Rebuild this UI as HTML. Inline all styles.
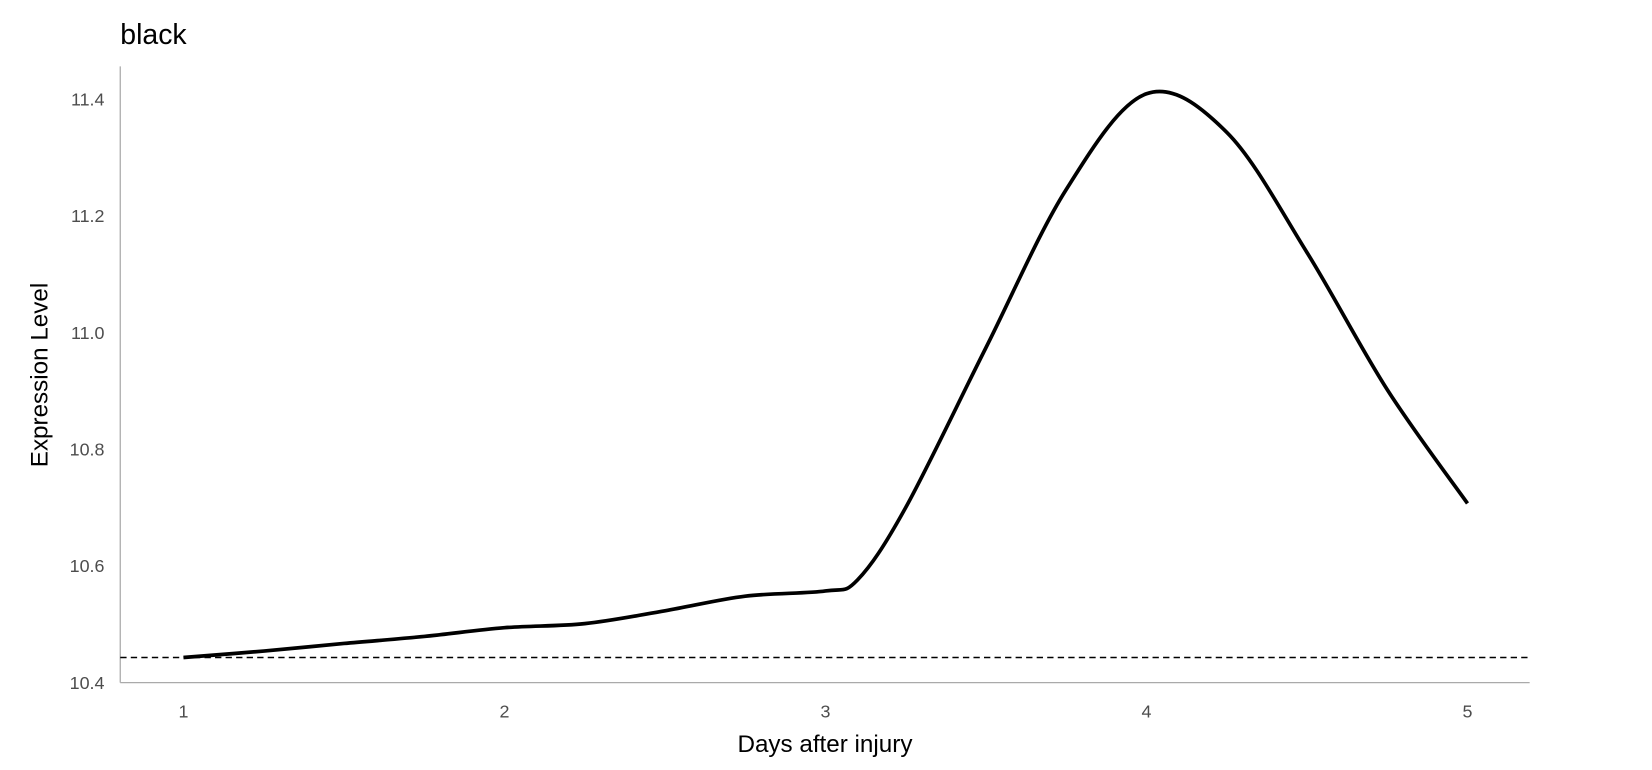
<!DOCTYPE html>
<html><head><meta charset="utf-8"><style>
html,body{margin:0;padding:0;background:#fff;}
svg{display:block;font-family:"Liberation Sans",Arial,sans-serif;}
</style></head><body>
<svg id="chart" width="1652" height="770" viewBox="0 0 1568 731" xmlns="http://www.w3.org/2000/svg">
<text x="114" y="42" font-size="27" fill="#000">black</text>
<g id="axes"></g>
<g id="marks"></g>
<text x="783" y="714" font-size="23" text-anchor="middle" fill="#000">Days after injury</text>
<text transform="translate(45,356) rotate(-90)" font-size="23" text-anchor="middle" fill="#000">Expression Level</text>
</svg>
<script>
const days = [1,1.25,1.5,1.75,2,2.25,2.5,2.75,3,3.1,3.25,3.5,3.75,4,4.25,4.5,4.75,5];
const expression = [10.443,10.454,10.467,10.479,10.494,10.501,10.523,10.548,10.557,10.576,10.70,10.974,11.245,11.409,11.343,11.137,10.902,10.707];
const baseline = 10.443;
const xTicks = [1,2,3,4,5];
const yTicks = [10.4,10.6,10.8,11.0,11.2,11.4];
const yTickLabels = ["10.4","10.6","10.8","11.0","11.2","11.4"];

const xs = d => 174 + (d-1)*304.75;
const ys = v => 648 - (v-10.4)*554;
const NS="http://www.w3.org/2000/svg";
const axes=document.getElementById('axes'), marks=document.getElementById('marks');
function mk(tag,attrs,parent){const e=document.createElementNS(NS,tag);for(const k in attrs)e.setAttribute(k,attrs[k]);parent.appendChild(e);return e;}

const xl=mk('line',{x1:114,y1:648,x2:1452,y2:648,stroke:'#aaa','stroke-width':1.2},axes);


const yl=mk('line',{x1:114,y1:63,x2:114,y2:648,stroke:'#aaa','stroke-width':1.2},axes);


xTicks.forEach(t=>{
  const e=mk('text',{x:xs(t),y:681,'font-size':17,'text-anchor':'middle',fill:'#4d4d4d'},axes);
  e.textContent=t;
  
  
});
yTicks.forEach((t,i)=>{
  const e=mk('text',{x:99,y:ys(t)+6,'font-size':17,'text-anchor':'end',fill:'#4d4d4d'},axes);
  e.textContent=yTickLabels[i];
  
  
});
const bl=mk('line',{x1:114,x2:1452,y1:ys(baseline),y2:ys(baseline),stroke:'#000','stroke-width':1.5,'stroke-dasharray':'6 4'},marks);



const P=days.map((d,i)=>[xs(d),ys(expression[i])]);
let dstr='M'+P[0][0]+','+P[0][1];
for(let i=0;i<P.length-1;i++){
  const p0=P[i-1]||P[i],p1=P[i],p2=P[i+1],p3=P[i+2]||P[i+1];
  const c1=[p1[0]+(p2[0]-p0[0])/6,p1[1]+(p2[1]-p0[1])/6];
  const c2=[p2[0]-(p3[0]-p1[0])/6,p2[1]-(p3[1]-p1[1])/6];
  dstr+=` C${c1[0]},${c1[1]} ${c2[0]},${c2[1]} ${p2[0]},${p2[1]}`;
}
const ln=mk('path',{d:dstr,fill:'none',stroke:'#000','stroke-width':3.5,'stroke-linejoin':'round'},marks);


</script>
</body></html>
